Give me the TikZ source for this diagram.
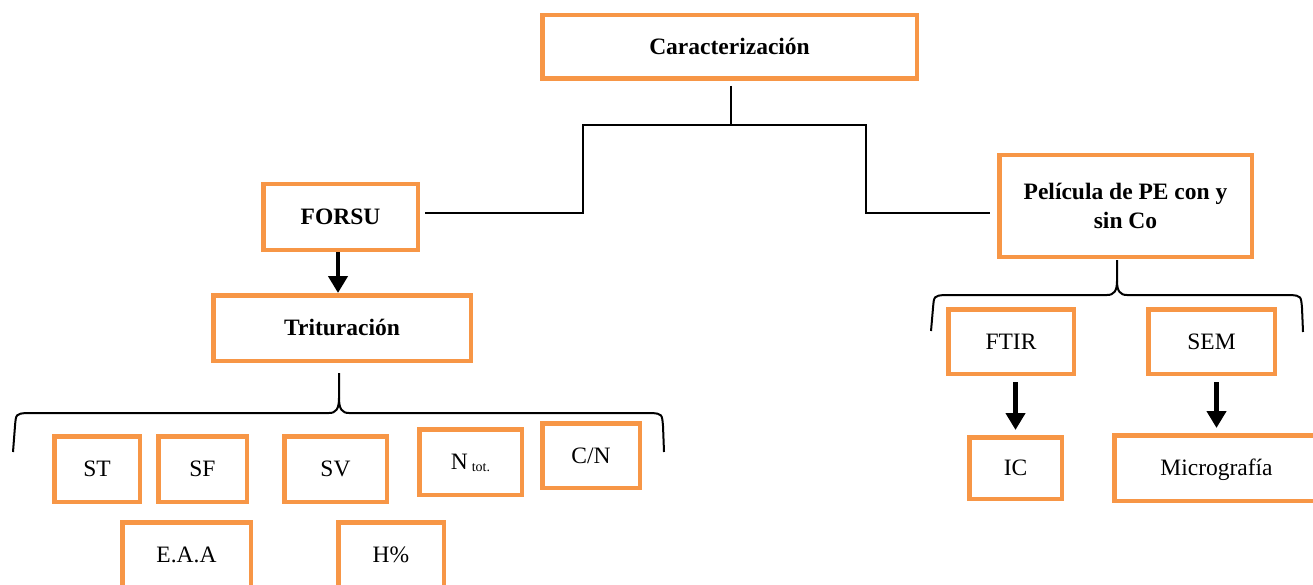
\documentclass[tikz,border=0pt]{standalone}
\usepackage{fontspec}
\setmainfont{Liberation Serif}
\usetikzlibrary{arrows.meta,calc}
\definecolor{boxorange}{RGB}{247,150,70}
\tikzset{
  box/.style={draw=boxorange, line width=4.5pt, inner sep=0pt, align=center,
    font=\fontsize{23.5}{29}\selectfont, text height=15.6pt, text depth=0pt},
  boldbox/.style={box, font=\bfseries\fontsize{23.5}{29}\selectfont},
  conn/.style={draw=black, line width=1.8pt},
  bracestyle/.style={draw=black, line width=2pt, line join=round},
  arr/.style={draw=black, line width=4.5pt, -{Triangle[width=19pt,length=17pt]}},
}
\begin{document}
\begin{tikzpicture}[x=1pt,y=-1pt]
\clip (0,0) rectangle (1313,585);
\fill[white] (0,0) rectangle (1313,585);
% top
\node[boldbox, minimum width=374.5pt, minimum height=63.5pt] (car) at (729.5,47) {Caracterización};
\node[boldbox, minimum width=154.5pt, minimum height=65.5pt] (forsu) at (340.5,217) {FORSU};
\node[boldbox, minimum width=257.5pt, minimum height=65.5pt] (trit) at (342,328) {Trituración};
\node[draw=boxorange, line width=4.5pt, inner sep=0pt, align=center,
      font=\bfseries\fontsize{23.5}{29}\selectfont,
      minimum width=252.5pt, minimum height=101.5pt] (pel) at (1125.5,206) {Película de PE con y\\sin Co};
% left bottom
\node[box, minimum width=85.5pt, minimum height=65.5pt] (st) at (97,469) {ST};
\node[box, minimum width=88.5pt, minimum height=65.5pt] (sf) at (202.5,469) {SF};
\node[box, minimum width=102.5pt, minimum height=65.5pt] (sv) at (335.5,469) {SV};
\node[box, minimum width=102.5pt, minimum height=65.5pt] (ntot) at (470.5,462) {N\,{\fontsize{14}{16}\selectfont\raisebox{-2pt}{tot.}}};
\node[box, minimum width=97.5pt, minimum height=64.5pt] (cn) at (591,455.5) {C/N};
\node[box, minimum width=128.5pt, minimum height=65.5pt] (eaa) at (186.5,555) {E.A.A};
\node[box, minimum width=105.5pt, minimum height=65.5pt] (hum) at (391,555) {H\%};
% right bottom
\node[box, minimum width=125.5pt, minimum height=64.5pt] (ftir) at (1011,341.5) {FTIR};
\node[box, minimum width=126.5pt, minimum height=64.5pt] (sem) at (1211.5,341.5) {SEM};
\node[box, minimum width=92.5pt, minimum height=61.5pt] (ic) at (1015.5,468) {IC};
\node[box, minimum width=204.5pt, minimum height=65.5pt] (micro) at (1216.5,468) {Micrografía};
% connectors
\coordinate (hub) at (731,125);
\draw[conn] ([yshift=-5pt]car.south -| hub) -- (hub);
\draw[conn] ($(forsu.east)+(5,-4)$) -| (583,125) -- (866,125) |- ($(pel.west)+(-7,7)$);
% arrows
\draw[arr] ([xshift=-2.5pt]forsu.south) -- ([xshift=-2.5pt]forsu.south |- trit.north);
\draw[arr, shorten <=6pt, shorten >=5pt] (ftir.south -| ic.north) -- (ic.north);
\draw[arr, shorten <=6pt, shorten >=5pt] (sem.south -| micro.north) -- (micro.north);
% brace under Trituracion
\coordinate (lb) at (339,373);
\draw[bracestyle] (13,452) -- (15,426) .. controls (16,414) .. (26,413) -- (329,413)
  .. controls (336,413) and (339,409) .. (339,398) -- (lb);
\draw[bracestyle] (339,398) .. controls (339,409) and (342,413) .. (349,413) -- (652,413)
  .. controls (662,414) .. (663,426) -- (664,452);
% brace under Pelicula
\coordinate (rb) at (1117,260);
\draw[bracestyle] (931,331) -- (933,308) .. controls (934,296) .. (944,295) -- (1107,295)
  .. controls (1114,295) and (1117,291) .. (1117,281) -- (rb);
\draw[bracestyle] (1117,281) .. controls (1117,291) and (1120,295) .. (1127,295) -- (1291,295)
  .. controls (1301,296) .. (1302,308) -- (1303,332);
\end{tikzpicture}
\end{document}
